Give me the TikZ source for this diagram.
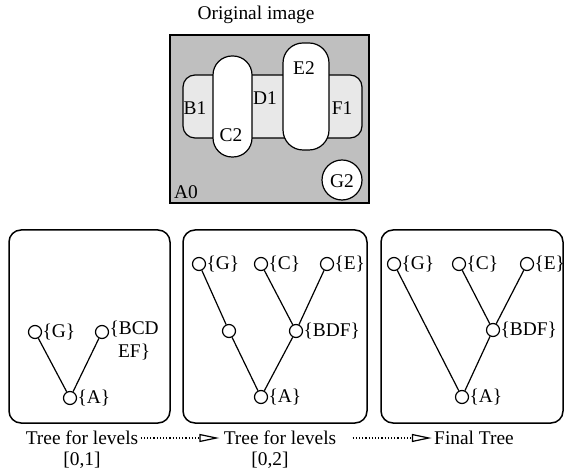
\documentclass[tikz,border=0pt]{standalone}
\usepackage{fontspec}
\setmainfont{Liberation Serif}
\usetikzlibrary{arrows.meta,positioning}

\begin{document}
\begin{tikzpicture}[x=0.5pt,y=-0.5pt,
    every node/.style={font=\fontsize{9.7}{11.5}\selectfont,inner sep=1pt},
    tnode/.style={circle,draw,line width=0.6pt,minimum size=6.5pt,inner sep=0pt},
    lbl/.style={inner sep=0pt},
    edge/.style={line width=0.6pt},
    panel/.style={draw,line width=0.75pt,rounded corners=6pt},
    flow/.style={line width=0.6pt,dash pattern=on 0.6pt off 1pt,-{Triangle[open,length=10pt,width=4pt]}}]
  \useasboundingbox (0,0) rectangle (565,469);
  % original image
  \node (title) at (256,15) {Original image};
  \draw[line width=0.6pt,fill=gray!50] (170,35) rectangle (369,203);
  \draw[line width=0.6pt,fill=gray!18,rounded corners=6pt] (183,75) rectangle (362,138);
  \draw[line width=0.6pt,fill=white,rounded corners=9.5pt] (213,56) rectangle (252,157);
  \draw[line width=0.6pt,fill=white,rounded corners=10pt] (283,43) rectangle (329,150);
  \draw[line width=0.6pt,fill=white] (342,180) circle[radius=10pt];
  \foreach \t/\x/\y in {A0/186/192,B1/195/108,C2/231/135,D1/265/98,E2/304/68,F1/342/108,G2/342/181}
    \node (r\t) at (\x,\y) {\t};
  % the three trees
  \draw[panel] (9,230) rectangle (170,423);
  \draw[panel] (183,230) rectangle (367,423);
  \draw[panel] (381,230) rectangle (563,423);
  \node[tnode,label={[lbl]right:\{G\}}] (g1) at (35,332) {};
  \node[tnode,label={[lbl,anchor=north west,align=center,yshift=5.5pt]east:\{BCD\\EF\}}] (b1) at (102,332) {};
  \node[tnode,label={[lbl]right:\{A\}}] (a1) at (70,398) {};
  \node[tnode,label={[lbl]right:\{G\}}] (g2) at (199,264) {};
  \node[tnode,label={[lbl]right:\{C\}}] (c2) at (261,264) {};
  \node[tnode,label={[lbl]right:\{E\}}] (e2) at (327,264) {};
  \node[tnode] (m2) at (229,331) {};
  \node[tnode,label={[lbl]right:\{BDF\}}] (d2) at (296,331) {};
  \node[tnode,label={[lbl]right:\{A\}}] (a2) at (261,397) {};
  \node[tnode,label={[lbl]right:\{G\}}] (g3) at (394,264) {};
  \node[tnode,label={[lbl]right:\{C\}}] (c3) at (459,264) {};
  \node[tnode,label={[lbl]right:\{E\}}] (e3) at (527,264) {};
  \node[tnode,label={[lbl]right:\{BDF\}}] (d3) at (493,330) {};
  \node[tnode,label={[lbl]right:\{A\}}] (a3) at (462,397) {};
  \foreach \u/\v in {g1/a1,b1/a1,g2/m2,m2/a2,c2/d2,e2/d2,d2/a2,g3/a3,c3/d3,e3/d3,d3/a3}
    \draw[edge] (\u) -- (\v);
  % captions
  \node (lv1) at (82,438) {Tree for levels};
  \node (rg1) at (82,460) {[0,1]};
  \node (lv2) at (280,438) {Tree for levels};
  \node (rg2) at (270,460) {[0,2]};
  \node (fin) at (474,438) {Final Tree};
  \draw[flow,shorten >=1pt] (lv1.east) -- (lv2.west);
  \draw[flow,shorten <=7pt] (lv2.east) -- (fin.west);
\end{tikzpicture}
\end{document}
